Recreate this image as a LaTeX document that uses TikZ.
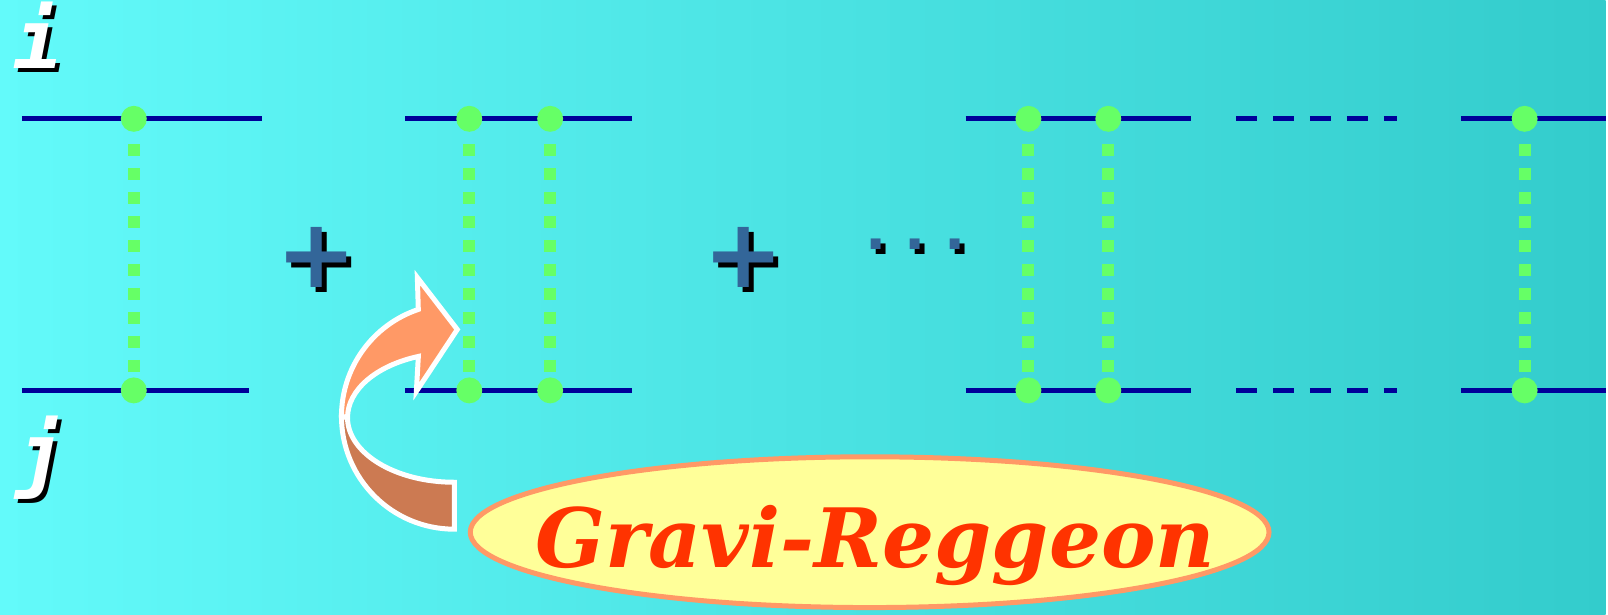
\documentclass[tikz,border=0pt]{standalone}
\usepackage{fontspec}
\usetikzlibrary{shapes.geometric}

\newfontfamily\idxfont{DejaVu Sans Mono}
\newfontfamily\opfont{DejaVu Sans}
\newfontfamily\namefont{DejaVu Serif}

\definecolor{bgleft}{HTML}{63FAFA}
\definecolor{bgright}{HTML}{33CCCC}
\definecolor{quarkblue}{HTML}{000099}
\definecolor{gravgreen}{HTML}{66FF66}
\definecolor{opblue}{HTML}{336699}
\definecolor{arrowlight}{HTML}{FF9966}
\definecolor{arrowdark}{HTML}{CC7A52}
\definecolor{namered}{HTML}{FF3300}
\definecolor{blobfill}{HTML}{FFFF99}

% text with a black drop shadow
\newcommand{\shadowed}[3][2pt]{%
    \rlap{\hspace{#1}\raisebox{-#1}{\color{black}#3}}{\color{#2}#3}}

\begin{document}
\begin{tikzpicture}[
    x=0.5pt, y=-0.5pt,
    quark/.style={line width=2.5pt, quarkblue},
    quarkgap/.style={quark, dash pattern=on 10.5pt off 8pt},
    vertex/.style={
        circle,
        fill=gravgreen,
        minimum size=13pt,
        inner sep=0pt
    },
    graviton/.style={
        line width=6pt,
        gravgreen,
        dash pattern=on 6pt off 6pt,
        dash phase=6pt
    },
    index/.style={
        anchor=base west,
        inner sep=0pt,
        font=\idxfont\bfseries\itshape\fontsize{41}{41}\selectfont
    },
    op/.style={
        anchor=base,
        inner sep=0pt,
        font=\opfont\bfseries\fontsize{48}{48}\selectfont
    },
    arrowpart/.style={draw=white, line width=2.5pt, line join=miter}
]

    % Background
    \shade[left color=bgleft, right color=bgright] (0,0) rectangle (1608,615);

    % Labels i, j
    \node[index] (ilabel) at (13,69) {\shadowed{white}{i}};
    \node[index] (jlabel) at (16,483) {\shadowed{white}{j}};

    % Quark lines
    \coordinate (a1) at (22,119);   \coordinate (a2) at (262,119);
    \coordinate (b1) at (22,391);   \coordinate (b2) at (249,391);
    \coordinate (c1) at (406,119);  \coordinate (c2) at (633,119);
    \coordinate (d1) at (406,391);  \coordinate (d2) at (633,391);
    \coordinate (e1) at (967,119);  \coordinate (e2) at (1193,119);
    \coordinate (f1) at (967,391);  \coordinate (f2) at (1193,391);
    \coordinate (g1) at (1238,119); \coordinate (g2) at (1399,119);
    \coordinate (h1) at (1238,391); \coordinate (h2) at (1399,391);
    \coordinate (k1) at (1463,119); \coordinate (k2) at (1608,119);
    \coordinate (l1) at (1463,391); \coordinate (l2) at (1608,391);

    \foreach \p in {a,b,c,d,e,f,k,l}
        \draw[quark] (\p1) -- (\p2);
    \draw[quarkgap] (g1) -- (g2);
    \draw[quarkgap] (h1) -- (h2);

    % Vertices
    \foreach \n/\x in {1/134, 2/470, 3/551, 4/1030, 5/1110, 6/1527} {
        \node[vertex] (top\n) at (\x,119) {};
        \node[vertex] (bot\n) at (\x,391) {};
    }

    % Graviton exchanges
    \foreach \n in {1,...,6}
        \draw[graviton] (top\n) -- (bot\n);

    % Plus signs and dots
    \node[op] (plusone) at (317,288) {\shadowed[2.5pt]{opblue}{+}};
    \node[op] (plustwo) at (745,288) {\shadowed[2.5pt]{opblue}{+}};
    \node[op, font=\opfont\bfseries\fontsize{28}{28}\selectfont] (dots) at (917,250)
        {\shadowed[2.5pt]{opblue}{.\hspace{9pt}.\hspace{9pt}.}};

    % Curved arrow
    \filldraw[arrowpart, fill=arrowdark] (342,417)
        arc[start angle=180, end angle=270, radius=56.5pt] -- (455,483)
        arc[start angle=270, end angle=180, x radius=53.5pt, y radius=32.5pt] -- cycle;
    \filldraw[arrowpart, fill=arrowlight] (342,417)
        arc[start angle=180, end angle=108.6, radius=56.5pt]
        -- (418,278) -- (458,330) -- (417,392) -- (419,357)
        arc[start angle=109.7, end angle=180, x radius=53.5pt, y radius=32.5pt] -- cycle;

    % Gravi-Reggeon
    \node[
        ellipse,
        draw=arrowlight,
        line width=2.5pt,
        fill=blobfill,
        minimum width=400pt,
        minimum height=75.5pt,
        inner sep=0pt
    ] (blob) at (871,533) {};
    \node[
        anchor=base,
        inner sep=0pt,
        text=namered,
        font=\namefont\bfseries\itshape\fontsize{41}{41}\selectfont
    ] (name) at (877,568) {Gravi-Reggeon};

\end{tikzpicture}
\end{document}
